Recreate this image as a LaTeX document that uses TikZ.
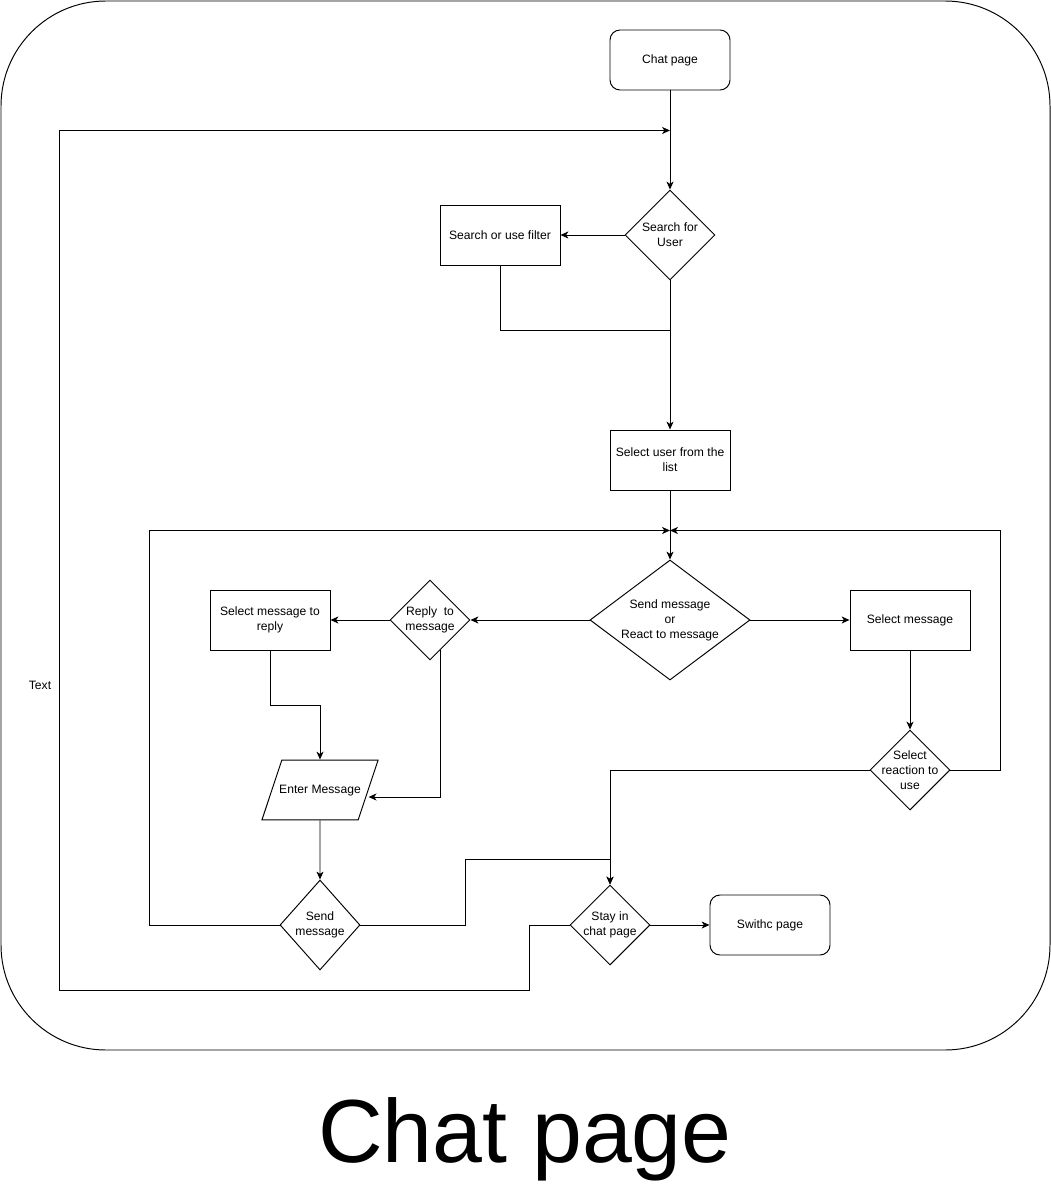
\documentclass[tikz,border=0pt]{standalone}
\usepackage{fontspec}
\setmainfont{Liberation Sans}
\usetikzlibrary{arrows.meta, shapes.geometric, positioning, calc}
\tikzset{every node/.append style={align=center}}

\begin{document}
\begin{tikzpicture}[
  line width=0.55pt,
  process/.style={rectangle, draw, minimum width=2.4cm, minimum height=1.2cm,
                  inner sep=2pt, font=\fontsize{6.9}{8.5}\selectfont},
  terminal/.style={process, rounded corners=0.2cm},
  decision/.style={diamond, draw, inner sep=0pt,
                   minimum width=1.6cm, minimum height=1.6cm},
  dtext/.style={inner sep=0pt, font=\fontsize{6.9}{8.5}\selectfont},
  inout/.style={trapezium, draw, trapezium left angle=71.6,
                trapezium right angle=108.4, trapezium stretches body,
                minimum width=2.2cm, text height=5pt, text depth=1.5pt,
                inner xsep=-1.5pt, inner ysep=0.485cm,
                font=\fontsize{6.9}{8.5}\selectfont},
  arrow/.style={-{Stealth[length=4.5pt, width=4pt, inset=1.3pt]}}
]
\useasboundingbox (0,0) rectangle (21.02,-23.82);

% Frame
\draw[rounded corners=2.1cm] (0.02,-0.02) rectangle (21.0,-21.0);

% Upper part
\node[terminal] (start) at (13.4,-1.2) {Chat page};
\node[decision, minimum width=1.8cm, minimum height=1.8cm,
      label={[dtext]center:Search for\\User}] (search) at (13.4,-4.7) {};
\node[process] (filter) at (10.0,-4.7) {Search or use filter};
\node[process] (selectuser) at (13.4,-9.2) {Select user from the\\list};

% Middle part
\node[decision, minimum width=3.2cm, minimum height=2.4cm,
      label={[dtext]center:Send message\\or\\React to message}] (sendreact) at (13.4,-12.4) {};
\node[decision, label={[dtext]center:Reply~ to\\message}] (reply) at (8.6,-12.4) {};
\node[process] (selreply) at (5.4,-12.4) {Select message to\\reply};
\node[inout] (enter) at (6.4,-15.8) {Enter Message};
\node[decision, minimum height=1.8cm,
      label={[dtext]center:Send\\message}] (send) at (6.4,-18.5) {};
\node[process] (selmsg) at (18.2,-12.4) {Select message};
\node[decision, label={[dtext]center:Select\\reaction to\\use}] (reaction) at (18.2,-15.4) {};

% Lower part
\node[decision, label={[dtext]center:Stay in\\chat page}] (stay) at (12.2,-18.5) {};
\node[terminal] (switch) at (15.4,-18.5) {Swithc page};

% Title
\node[anchor=base, font=\fontsize{51}{60}\selectfont] (title) at (10.5,-23.24) {Chat page};

% Join points
\coordinate (top) at ($(start.south)+(0,-0.8)$);
\coordinate (merge) at ($(search.south)+(0,-1)$);
\coordinate (join) at ($(selectuser.south)+(0,-0.8)$);

% Straight arrows
\foreach \a/\b in {start/search, search/filter, search/selectuser,
                   selectuser/sendreact, sendreact/reply, reply/selreply,
                   sendreact/selmsg, selmsg/reaction, enter/send, stay/switch}
  \draw[arrow] (\a) -- (\b);

% Elbow connectors
\draw (filter.south) |- (merge);
\draw[arrow] (selreply.south) -- ++(0,-1.1) -| (enter);
\draw[arrow] ($(reply.south)!0.25!(reply.east)$) |- ([yshift=-0.14cm]enter.east);
\draw[arrow] (send.east) -- ++(2.1,0) |- ($(stay.north)+(0,0.5)$) -- (stay.north);
\draw[arrow] (reaction.west) -| (stay.north);

% Loops back
\draw[arrow] (send.west) -- ++(-2.6,0) |- (join);
\draw[arrow] (reaction.east) -- ++(1,0) |- (join);
\draw[arrow] (stay.west) -- ++(-0.8,0) -- ++(0,-1.3) -- ++(-9.4,0)
  |- node[pos=0.177, left=4.5pt, dtext] {Text} (top);

\end{tikzpicture}
\end{document}
